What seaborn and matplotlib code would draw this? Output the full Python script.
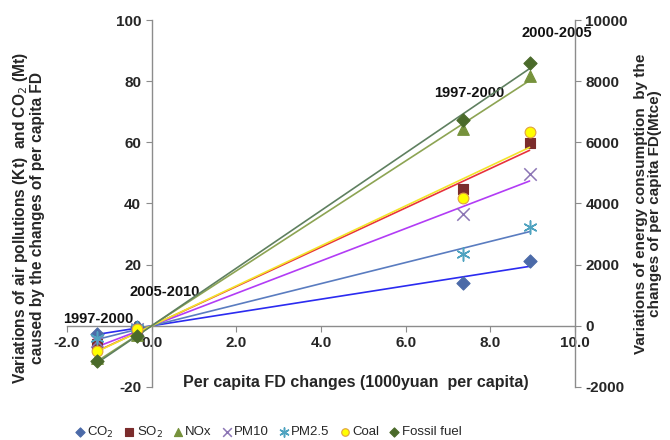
import numpy as np
import pandas as pd
import matplotlib
matplotlib.use("Agg")
import matplotlib.pyplot as plt
from matplotlib.ticker import FormatStrFormatter
import seaborn as sns

# per capita FD changes (1000 yuan per capita) for each period
fd_change = [-1.29, -0.35, 7.35, 8.93]

# left axis: air pollutants (Kt) and CO2 (Mt)
co2 = [-2.7, -0.5, 13.9, 21.2]
so2 = [-6.1, -1.5, 44.6, 59.9]
nox = [-10.5, -3.0, 64.4, 81.7]
pm10 = [-5.0, -1.2, 36.6, 49.6]
pm25 = [-4.0, -0.8, 23.5, 32.4]

# right axis: energy consumption (Mtce)
coal = [-810, -100, 4190, 6350]
fossil = [-1140, -330, 6730, 8580]

period_labels = ["1997-2000", "2005-2010", "1997-2000", "2000-2005"]

left_ticks = [-20, 0, 20, 40, 60, 80, 100]
right_ticks = [-2000, 0, 2000, 4000, 6000, 8000, 10000]
x_ticks = [-2, 0, 2, 4, 6, 8, 10]

sns.set_style("ticks")
plt.rcParams["font.family"] = ["Liberation Sans", "DejaVu Sans"]
plt.rcParams["axes.unicode_minus"] = False

fig, ax = plt.subplots(figsize=(6.7, 4.4), dpi=100)
fig.subplots_adjust(left=0.1, right=0.858, top=0.9545, bottom=0.1205)
ax2 = ax.twinx()

# name, values, axis, marker, face, edge, size, trend line colour
series = [
    ("CO$_2$", co2, ax, "D", "#4B6AA8", "#4B6AA8", 45, "#2B2BF0"),
    ("SO$_2$", so2, ax, "s", "#7B2C2C", "#7B2C2C", 60, "#E8323C"),
    ("NOx", nox, ax, "^", "#76923C", "#76923C", 70, "#8DA453"),
    ("PM10", pm10, ax, "x", "#8C76B5", "#8C76B5", 80, "#B23CF5"),
    ("PM2.5", pm25, ax, (6, 2, 0), "#4FA3C0", "#4FA3C0", 90, "#5A7CC0"),
    ("Coal", coal, ax2, "o", "#FFFF00", "#E0A040", 60, "#F2E42A"),
    ("Fossil fuel", fossil, ax2, "D", "#4A6A2A", "#4A6A2A", 45, "#5F8060"),
]

x = np.array(fd_change)
x_line = np.array([x.min(), x.max()])
for name, vals, a, mk, fc, ec, sz, lc in series:
    y = np.array(vals, dtype=float)
    # linear trend forced through the origin
    slope = np.sum(x * y) / np.sum(x * x)
    sns.lineplot(x=x_line, y=slope * x_line, color=lc, linewidth=1.2, ax=a, zorder=2)
    if mk in ("x", (6, 2, 0)):
        sns.scatterplot(x=x, y=y, marker=mk, color=ec, s=sz, linewidth=1.1,
                        ax=a, label=name, zorder=3)
    else:
        sns.scatterplot(x=x, y=y, marker=mk, color=fc, edgecolor=ec, s=sz,
                        linewidth=0.8, ax=a, label=name, zorder=3)

for a in (ax, ax2):
    if a.get_legend() is not None:
        a.get_legend().remove()

ax.set_xlim(-2, 10)
ax.set_ylim(-20, 100)
ax2.set_ylim(-2000, 10000)
ax.set_xticks(x_ticks)
ax.set_yticks(left_ticks)
ax2.set_yticks(right_ticks)
ax.xaxis.set_major_formatter(FormatStrFormatter("%.1f"))

spine_col = "#8C8C8C"
ax.spines["left"].set_position(("data", 0))
ax.spines["bottom"].set_position(("data", 0))
ax.spines["top"].set_visible(False)
ax.spines["right"].set_visible(False)
for s in ("left", "top", "bottom"):
    ax2.spines[s].set_visible(False)
ax2.spines["right"].set_visible(True)
for sp in list(ax.spines.values()) + list(ax2.spines.values()):
    sp.set_color(spine_col)
    sp.set_linewidth(1.0)

tick_font = dict(labelsize=11, labelcolor="#262626", color=spine_col, length=4, direction="out")
ax.tick_params(axis="both", **tick_font)
ax2.tick_params(axis="y", **tick_font)
for lab in ax.get_xticklabels() + ax.get_yticklabels() + ax2.get_yticklabels():
    lab.set_fontweight("bold")

ax.set_xlabel("Per capita FD changes (1000yuan  per capita)", fontsize=11.5,
              fontweight="bold", va="center")
ax.xaxis.set_label_coords(0.568, 0.011)
ax.set_ylabel("Variations of air pollutions (Kt)  and CO$_2$ (Mt)\n"
              "caused by the changes of per capita FD", fontsize=11.2,
              fontweight="bold", va="center", linespacing=1.0)
ax.yaxis.set_label_coords(-0.077, 0.46)
ax2.set_ylabel("Variations of energy consumption  by the\n"
               "changes of per capita FD(Mtce)", fontsize=11,
               fontweight="bold", va="center", rotation=90, linespacing=1.0)
ax2.yaxis.set_label_coords(1.145, 0.5)

label_xy = [(-1.25, 2.2), (0.31, 11.1), (7.5, 76.1), (9.58, 95.9)]
for txt, (tx, ty) in zip(period_labels, label_xy):
    ax.text(tx, ty, txt, fontsize=10.5, fontweight="bold", ha="center",
            va="center", color="#111111", zorder=5)

handles, labels = [], []
for a in (ax, ax2):
    h, l = a.get_legend_handles_labels()
    handles += h
    labels += l
fig.legend(handles, labels, loc="center", bbox_to_anchor=(0.4, 1 - 432 / 440),
           ncol=7, frameon=False, fontsize=9.5, handletextpad=0.15,
           handlelength=0.8, columnspacing=0.75, borderaxespad=0, markerscale=0.7)

fig.savefig("out.png", dpi=100)
